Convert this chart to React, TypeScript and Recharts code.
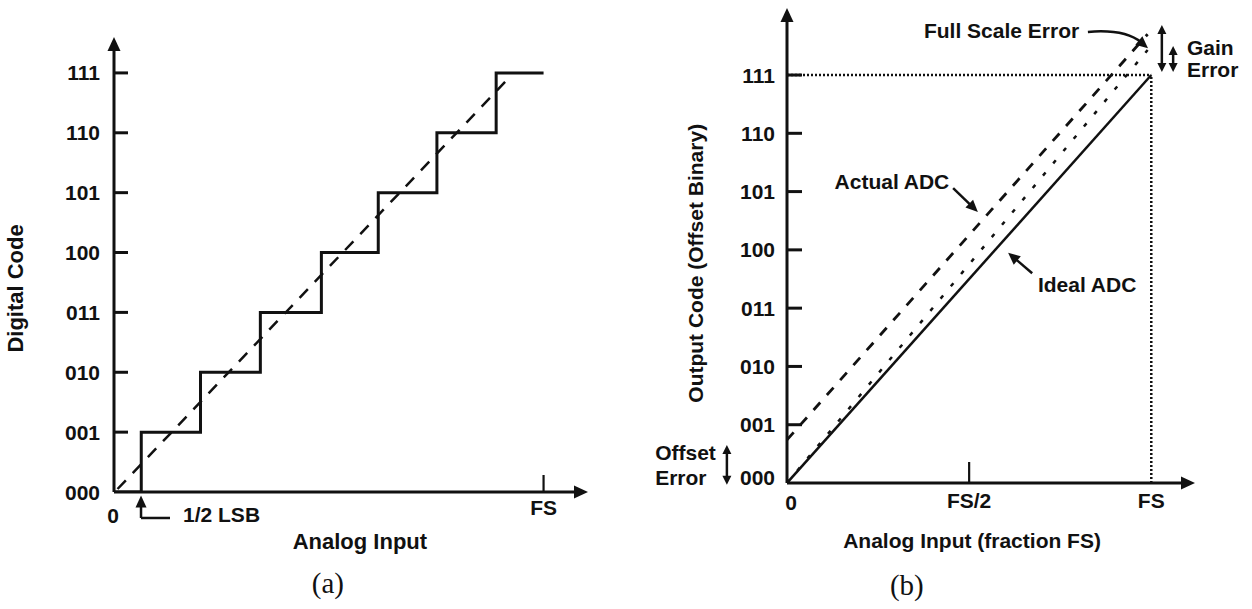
import { LineChart, Line, XAxis, YAxis, ReferenceLine, ReferenceDot } from 'recharts'

// ─── data ─────────────────────────────────────────────────────────────────

const CODES = ['000', '001', '010', '011', '100', '101', '110', '111']
const CODE_VALUES = [0, 1, 2, 3, 4, 5, 6, 7]

// (a) 3-bit quantizer: code transitions in LSB units of analog input
const STAIR_X = [0, 0.46, 1.46, 2.47, 3.5, 4.46, 5.45, 6.45, 7.25]
const STAIR_Y = [0, 1, 2, 3, 4, 5, 6, 7, 7]
const LINEAR_A_X = [0.06, 6.65]
const LINEAR_A_Y = [0.05, 6.9]
const A_TICKS = [0, 7.25]
const A_TICK_LABELS = ['0', 'FS']

// (b) offset and gain error, input as fraction of full scale
const IDEAL_X = [0, 1]
const IDEAL_Y = [0, 7]
const GAIN_ONLY_X = [0, 0.99]
const GAIN_ONLY_Y = [0, 7.43]
const ACTUAL_X = [0, 0.99]
const ACTUAL_Y = [0.74, 7.7]
const B_TICKS = [0, 0.5, 1]
const B_TICK_LABELS = ['0', 'FS/2', 'FS']

const pts = (xs: number[], ys: number[]) => xs.map((x, i) => ({ x, y: ys[i] }))

// ─── style ────────────────────────────────────────────────────────────────

const INK = '#111'
const SANS = "'Liberation Sans', Arial, sans-serif"
const SERIF = "'Liberation Serif', 'Times New Roman', serif"

// ─── shapes ───────────────────────────────────────────────────────────────

function head(tx: number, ty: number, ux: number, uy: number, len: number, half: number) {
  const bx = tx - ux * len
  const by = ty - uy * len
  return `${tx},${ty} ${bx - uy * half},${by + ux * half} ${bx + uy * half},${by - ux * half}`
}

function arrow(both: boolean, len = 11, half = 5, width = 2.5) {
  return (p: any) => {
    const { x1, y1, x2, y2 } = p
    const d = Math.hypot(x2 - x1, y2 - y1) || 1
    const ux = (x2 - x1) / d
    const uy = (y2 - y1) / d
    const sx = both ? x1 + ux * (len - 1) : x1
    const sy = both ? y1 + uy * (len - 1) : y1
    return (
      <g>
        <line x1={sx} y1={sy} x2={x2 - ux * (len - 1)} y2={y2 - uy * (len - 1)} stroke={INK} strokeWidth={width} />
        <polygon points={head(x2, y2, ux, uy, len, half)} fill={INK} />
        {both && <polygon points={head(x1, y1, -ux, -uy, len, half)} fill={INK} />}
      </g>
    )
  }
}

function curvedArrow(p: any) {
  const { x1, y1, x2, y2 } = p
  const cx = x1 + (x2 - x1) * 0.62
  const cy = y1 - 3
  const d = Math.hypot(x2 - cx, y2 - cy) || 1
  const ux = (x2 - cx) / d
  const uy = (y2 - cy) / d
  return (
    <g>
      <path d={`M${x1},${y1} Q${cx},${cy} ${x2 - ux * 9},${y2 - uy * 9}`} fill="none" stroke={INK} strokeWidth={2.5} />
      <polygon points={head(x2, y2, ux, uy, 12, 5.5)} fill={INK} />
    </g>
  )
}

function note(key: string, x: number, y: number, text: string, opts: { anchor?: string; rotate?: boolean; serif?: boolean; size?: number } = {}) {
  const { anchor = 'middle', rotate = false, serif = false, size = 21 } = opts
  return (
    <ReferenceDot
      key={key}
      x={x}
      y={y}
      r={0}
      ifOverflow="visible"
      shape={(p: any) => (
        <text
          x={p.cx}
          y={p.cy}
          textAnchor={anchor}
          dominantBaseline="central"
          transform={rotate ? `rotate(-90 ${p.cx} ${p.cy})` : undefined}
          fill={INK}
          fontFamily={serif ? SERIF : SANS}
          fontWeight={serif ? 'normal' : 'bold'}
          fontSize={size}
        >
          {text}
        </text>
      )}
    />
  )
}

function seg(key: string, a: [number, number], b: [number, number], shape: any) {
  return (
    <ReferenceLine
      key={key}
      segment={[{ x: a[0], y: a[1] }, { x: b[0], y: b[1] }]}
      ifOverflow="visible"
      shape={shape}
    />
  )
}

function dotted(key: string, a: [number, number], b: [number, number]) {
  return (
    <ReferenceLine
      key={key}
      segment={[{ x: a[0], y: a[1] }, { x: b[0], y: b[1] }]}
      ifOverflow="visible"
      stroke={INK}
      strokeWidth={2.5}
      strokeDasharray="2 2"
    />
  )
}

// ─── ticks ────────────────────────────────────────────────────────────────

function xTick(ticks: number[], labels: string[], dy: number[], dx: number[], tickLen: number[]) {
  return (p: any) => {
    const i = ticks.indexOf(p.payload.value)
    return (
      <g>
        {tickLen[i] > 0 && <line x1={p.x} y1={p.y} x2={p.x} y2={p.y - tickLen[i]} stroke={INK} strokeWidth={2.2} />}
        <text x={p.x + dx[i]} y={p.y + dy[i]} textAnchor="middle" dominantBaseline="central" fill={INK} fontFamily={SANS} fontWeight="bold" fontSize={21}>
          {labels[i]}
        </text>
      </g>
    )
  }
}

function yTick(gap: number, len: number, zeroDy: number) {
  return (p: any) => {
    const v = p.payload.value
    return (
      <g>
        {v > 0 && <line x1={p.x} y1={p.y} x2={p.x + len} y2={p.y} stroke={INK} strokeWidth={3} />}
        <text x={p.x - gap} y={p.y + (v === 0 ? zeroDy : 0)} textAnchor="end" dominantBaseline="central" fill={INK} fontFamily={SANS} fontWeight="bold" fontSize={21}>
          {CODES[v]}
        </text>
      </g>
    )
  }
}

// ─── component ────────────────────────────────────────────────────────────

export default function App() {
  const axisArrow = arrow(false, 14, 6.5, 3)
  const small = arrow(false, 12, 5.5, 2.5)
  const twoWay = arrow(true, 9, 4.5, 2.5)

  return (
    <div style={{ position: 'absolute', left: 0, top: 0, width: 1252, height: 609, background: '#fff' }}>
      <div style={{ position: 'absolute', left: 0, top: 0 }}>
        <LineChart width={620} height={609} margin={{ top: 37, right: 32, bottom: 77, left: 34 }}>
          <XAxis
            type="number"
            dataKey="x"
            domain={[0, 8]}
            allowDataOverflow
            ticks={A_TICKS}
            interval={0}
            axisLine={false}
            tickLine={false}
            tickSize={0}
            tickMargin={0}
            height={40}
            tick={xTick(A_TICKS, A_TICK_LABELS, [23, 15], [-1, 0], [0, 17])}
          />
          <YAxis
            type="number"
            domain={[0, 7.6]}
            allowDataOverflow
            ticks={CODE_VALUES}
            interval={0}
            axisLine={false}
            tickLine={false}
            tickSize={0}
            tickMargin={0}
            width={80}
            tick={yTick(14, 14, 0)}
          />
          {seg('ax', [0, 0], [8, 0], axisArrow)}
          {seg('ay', [0, 0], [0, 7.6], axisArrow)}
          <Line data={pts(LINEAR_A_X, LINEAR_A_Y)} dataKey="y" type="linear" stroke={INK} strokeWidth={2.5} strokeDasharray="12 10" dot={false} isAnimationActive={false} />
          <Line data={pts(STAIR_X, STAIR_Y)} dataKey="y" type="stepAfter" stroke={INK} strokeWidth={3} strokeLinejoin="miter" dot={false} isAnimationActive={false} />
          {seg('lsbUp', [0.456, -0.434], [0.456, -0.06], small)}
          {seg('lsbRun', [0.456, -0.434], [0.945, -0.434], (p: any) => <line x1={p.x1} y1={p.y1} x2={p.x2} y2={p.y2} stroke={INK} strokeWidth={2.5} />)}
          {note('lsb', 1.165, -0.384, '1/2 LSB', { anchor: 'start' })}
          {note('ya', -1.654, 3.4, 'Digital Code', { rotate: true, size: 22 })}
          {note('xa', 4.15, -0.835, 'Analog Input', { size: 22 })}
          {note('ca', 3.61, -1.52, '(a)', { serif: true, size: 29 })}
        </LineChart>
      </div>

      <div style={{ position: 'absolute', left: 620, top: 0 }}>
        <LineChart width={632} height={609} margin={{ top: 8, right: 57, bottom: 86, left: 87 }}>
          <XAxis
            type="number"
            dataKey="x"
            domain={[0, 1.12]}
            allowDataOverflow
            ticks={B_TICKS}
            interval={0}
            axisLine={false}
            tickLine={false}
            tickSize={0}
            tickMargin={0}
            height={40}
            tick={xTick(B_TICKS, B_TICK_LABELS, [19, 17, 17], [4, 0, 0], [0, 21, 0])}
          />
          <YAxis
            type="number"
            domain={[0, 8.15]}
            allowDataOverflow
            ticks={CODE_VALUES}
            interval={0}
            axisLine={false}
            tickLine={false}
            tickSize={0}
            tickMargin={0}
            width={80}
            tick={yTick(12, 15, -6)}
          />
          {dotted('fsH', [0, 7], [1, 7])}
          {dotted('fsV', [1, 0], [1, 7])}
          {seg('ax', [0, 0], [1.12, 0], axisArrow)}
          {seg('ay', [0, 0], [0, 8.15], axisArrow)}
          <Line data={pts(IDEAL_X, IDEAL_Y)} dataKey="y" type="linear" stroke={INK} strokeWidth={2.5} dot={false} isAnimationActive={false} />
          <Line data={pts(GAIN_ONLY_X, GAIN_ONLY_Y)} dataKey="y" type="linear" stroke={INK} strokeWidth={2.5} strokeDasharray="4 12" dot={false} isAnimationActive={false} />
          <Line data={pts(ACTUAL_X, ACTUAL_Y)} dataKey="y" type="linear" stroke={INK} strokeWidth={2.8} strokeDasharray="10 10" dot={false} isAnimationActive={false} />

          {seg('fsArrow', [0.826, 7.74], [0.991, 7.46], curvedArrow)}
          {note('fs', 0.589, 7.77, 'Full Scale Error')}
          {seg('gainBig', [1.029, 7.86], [1.029, 7.05], twoWay)}
          {seg('gainSmall', [1.06, 7.5], [1.06, 7.05], twoWay)}
          {note('gain1', 1.098, 7.48, 'Gain', { anchor: 'start' })}
          {note('gain2', 1.098, 7.09, 'Error', { anchor: 'start' })}

          {seg('actArrow', [0.456, 5.06], [0.524, 4.65], small)}
          {note('act', 0.288, 5.18, 'Actual ADC')}
          {seg('idArrow', [0.673, 3.6], [0.607, 3.95], small)}
          {note('id', 0.824, 3.4, 'Ideal ADC')}

          {seg('offArrow', [-0.165, 0.65], [-0.165, -0.03], twoWay)}
          {note('off1', -0.362, 0.515, 'Offset', { anchor: 'start' })}
          {note('off2', -0.362, 0.1, 'Error', { anchor: 'start' })}

          {note('yb', -0.25, 3.77, 'Output Code (Offset Binary)', { rotate: true })}
          {note('xb', 0.508, -0.98, 'Analog Input (fraction FS)')}
          {note('cb', 0.329, -1.75, '(b)', { serif: true, size: 29 })}
        </LineChart>
      </div>
    </div>
  )
}
